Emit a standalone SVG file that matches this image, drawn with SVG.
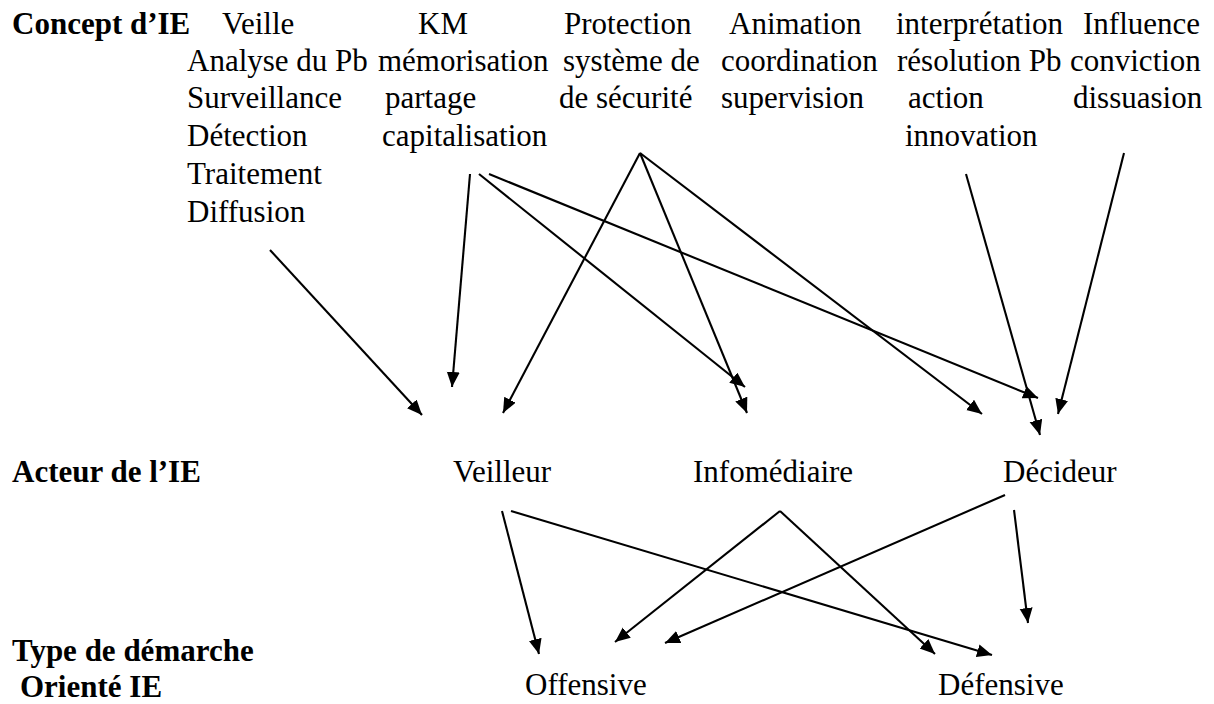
<svg xmlns="http://www.w3.org/2000/svg" width="1214" height="704" viewBox="0 0 1214 704">
  <defs>
    <style>
      text { font-family: "Liberation Serif", "Times New Roman", serif; font-size: 31px; fill: #000; }
      .head { font-weight: bold; }
      .link { fill: none; stroke: #000; stroke-width: 2.1; marker-end: url(#arrow); }
    </style>
    <marker id="arrow" markerUnits="userSpaceOnUse" markerWidth="16" markerHeight="14" refX="15" refY="6.5" orient="auto">
      <path d="M0,0 L15,6.5 L0,13 Z" fill="#000"/>
    </marker>
  </defs>
  <rect width="1214" height="704" fill="#fff"/>

  <!-- row headings -->
  <g id="row-concept"><text class="head" x="12" y="34">Concept d’IE</text></g>
  <g id="row-acteur"><text class="head" x="12" y="482">Acteur de l’IE</text></g>
  <g id="row-type">
    <text class="head" x="12" y="661">Type de démarche</text>
    <text class="head" x="20" y="697">Orienté IE</text>
  </g>

  <!-- concepts -->
  <g id="veille">
    <text x="222" y="34">Veille</text>
    <text x="187" y="71">Analyse du Pb</text>
    <text x="187" y="108">Surveillance</text>
    <text x="187" y="146">Détection</text>
    <text x="187" y="184">Traitement</text>
    <text x="187" y="222">Diffusion</text>
  </g>
  <g id="km">
    <text x="418" y="34">KM</text>
    <text x="378" y="71">mémorisation</text>
    <text x="385" y="108">partage</text>
    <text x="382" y="146">capitalisation</text>
  </g>
  <g id="protection">
    <text x="564" y="34">Protection</text>
    <text x="563" y="71">système de</text>
    <text x="559" y="108">de sécurité</text>
  </g>
  <g id="animation">
    <text x="729" y="34">Animation</text>
    <text x="721" y="71">coordination</text>
    <text x="721" y="108">supervision</text>
  </g>
  <g id="interpretation">
    <text x="896" y="34">interprétation</text>
    <text x="897" y="71">résolution Pb</text>
    <text x="908" y="108">action</text>
    <text x="905" y="146">innovation</text>
  </g>
  <g id="influence">
    <text x="1083" y="34">Influence</text>
    <text x="1070" y="71">conviction</text>
    <text x="1073" y="108">dissuasion</text>
  </g>

  <!-- actors -->
  <g id="veilleur"><text x="453" y="482">Veilleur</text></g>
  <g id="infomediaire"><text x="693" y="482">Infomédiaire</text></g>
  <g id="decideur"><text x="1003" y="482">Décideur</text></g>

  <!-- approach types -->
  <g id="offensive"><text x="525" y="695">Offensive</text></g>
  <g id="defensive"><text x="938" y="695">Défensive</text></g>

  <!-- connectors -->
  <g id="connectors">
    <line class="link" x1="270" y1="250" x2="422" y2="415"/>
    <line class="link" x1="470" y1="174" x2="452" y2="387"/>
    <line class="link" x1="479" y1="174" x2="745" y2="387"/>
    <line class="link" x1="489" y1="174" x2="1038" y2="398"/>
    <line class="link" x1="640" y1="153" x2="503" y2="413"/>
    <line class="link" x1="640" y1="153" x2="747" y2="413"/>
    <line class="link" x1="640" y1="153" x2="982" y2="414"/>
    <line class="link" x1="966" y1="174" x2="1040" y2="435"/>
    <line class="link" x1="1124" y1="153" x2="1058" y2="414"/>

    <line class="link" x1="502" y1="511" x2="539" y2="654"/>
    <line class="link" x1="511" y1="511" x2="992" y2="655"/>
    <line class="link" x1="780" y1="511" x2="615" y2="642"/>
    <line class="link" x1="780" y1="511" x2="935" y2="654"/>
    <line class="link" x1="1005" y1="495" x2="665" y2="643"/>
    <line class="link" x1="1014" y1="510" x2="1028" y2="623"/>
  </g>
</svg>
